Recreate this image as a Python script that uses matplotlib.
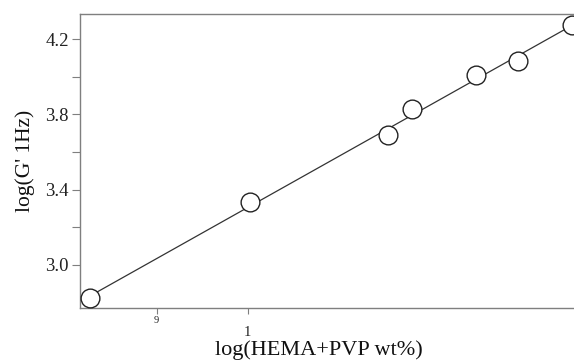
import matplotlib
matplotlib.use("Agg")
import matplotlib.pyplot as plt
import numpy as np

# data
x_vals = [0.827, 1.0025, 1.154, 1.180, 1.251, 1.297, 1.356]
y_vals = [2.820, 3.334, 3.690, 3.827, 4.008, 4.086, 4.276]
y_major = [3.0, 3.4, 3.8, 4.2]
y_minor = [3.2, 3.6, 4.0]
y_labels = ["3.0", "3.4", "3.8", "4.2"]
x_ticks = [0.9, 1.0]
x_labels = ["9", "1"]

plt.rcParams['font.family'] = ['Liberation Serif', 'DejaVu Serif']

W, H = 574, 361
fig = plt.figure(figsize=(W / 100, H / 100), dpi=100)
left, right, top, bottom = 80, 575.5, 14, 307.5
ax = fig.add_axes([left / W, 1 - bottom / H, (right - left) / W, (bottom - top) / H])

# regression line
coef = np.polyfit(x_vals, y_vals, 1)
xl = np.linspace(x_vals[0], 1.40, 50)
ax.plot(xl, np.polyval(coef, xl), color='#333333', lw=0.9, zorder=2)
ax.plot(x_vals, y_vals, 'o', ms=13.5, mfc='white', mec='#222222', mew=1.0, zorder=3, clip_on=False)

ax.set_xlim(0.816, 1.3597)
ax.set_ylim(2.772, 4.335)

spine_col = '#7f7f7f'
for s in ['left', 'bottom', 'top']:
    ax.spines[s].set_color(spine_col)
    ax.spines[s].set_linewidth(1.0)
ax.spines['right'].set_visible(False)

ax.set_yticks(y_major)
ax.set_yticklabels(y_labels)
ax.set_yticks(y_minor, minor=True)
ax.tick_params(axis='y', which='both', direction='out', length=6, width=0.8, color=spine_col,
               labelsize=13.5, pad=2, labelcolor='#222222')

ax.set_xticks(x_ticks)
ax.set_xticklabels(x_labels)
ax.tick_params(axis='x', which='both', direction='out', length=4, width=0.8, color=spine_col,
               labelcolor='#222222', pad=2)
xt = ax.get_xticklabels()
xt[0].set_fontsize(7.5)
xt[1].set_fontsize(10.5)
xt[1].set_y(-0.036)

ax.set_ylabel("log(G' 1Hz)", fontsize=15.5, color='#111111', va='center')
ax.yaxis.set_label_coords(-(80 - 25) / (right - left), (bottom - 161) / (bottom - top))
ax.set_xlabel("log(HEMA+PVP wt%)", fontsize=16, color='#111111', va='top')
ax.xaxis.set_label_coords((318.5 - left) / (right - left), -(340.5 - bottom) / (bottom - top))

fig.savefig("out.png", dpi=100)
